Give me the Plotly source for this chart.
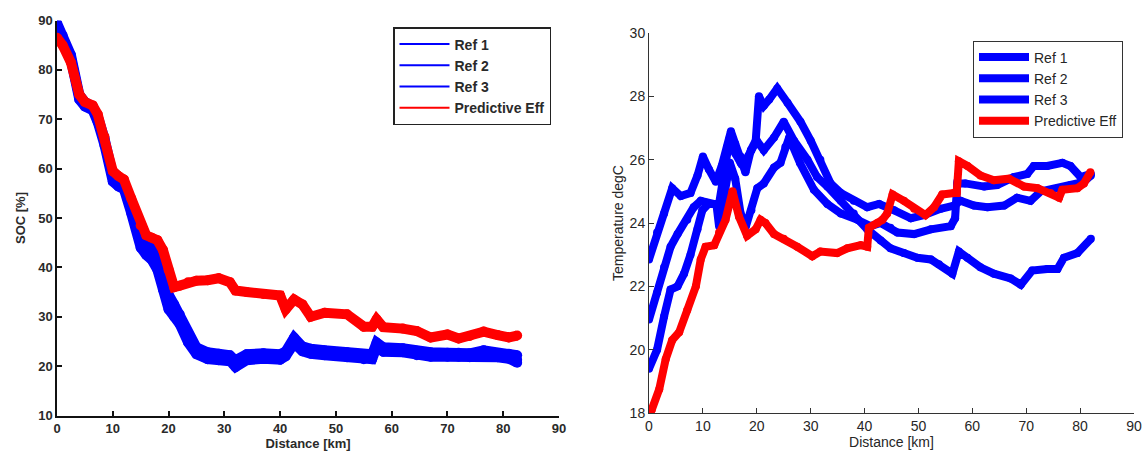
import plotly.graph_objects as go

# ---------------- Left panel: SOC ----------------
soc_x = [0, 1, 2.5, 4, 5, 6.4, 7.3, 8.5, 10, 11, 12, 13.3, 15, 16, 17, 18, 19, 20, 21, 22,
         23.5, 25, 27, 29, 31, 32, 34, 37, 40, 41, 42.5, 44, 45.5, 48, 52, 55, 56.5, 57.3, 58.5,
         62, 64.5, 67, 70, 72, 74, 76.5, 79, 81, 82.5]
soc_ref1 = [89, 86.5, 82.5, 74.5, 73, 72.2, 70, 65.5, 58, 57, 56.5, 52, 45, 43.5, 42.5, 41, 37, 33, 31, 29.5,
            25.5, 23, 22, 21.8, 21.5, 20.3, 21.8, 22, 21.8, 22.5, 25.2, 23.5, 23, 22.7, 22.3, 21.8, 21.9, 24.3, 23.3,
            23.2, 22.6, 22.3, 22.3, 22.3, 22.2, 22.7, 22.2, 22, 21.3]
soc_ref2 = [89.5, 87, 83, 75, 73.5, 72.6, 70.6, 66.2, 58.8, 57.6, 57, 53, 46, 45, 44.5, 42.5, 38.5, 34.5, 32.5, 30.5,
            26.5, 23.8, 22.8, 22.5, 22.2, 21.2, 22.4, 22.6, 22.4, 23, 25.8, 24, 23.5, 23.2, 22.8, 22.4, 22.4, 24.8, 23.8,
            23.6, 23.1, 22.8, 22.7, 22.7, 22.6, 23.2, 22.6, 22.5, 22.2]
soc_ref3 = [88.5, 86, 82, 74, 72.6, 71.8, 69.4, 64.8, 57.4, 56.4, 55.8, 51, 44, 42.5, 41.5, 39.5, 35.5, 31.5, 30, 28.5,
            24.8, 22.4, 21.4, 21.2, 21, 19.8, 21.2, 21.5, 21.3, 22, 24.6, 23, 22.5, 22.2, 21.8, 21.4, 21.4, 23.8, 22.9,
            22.8, 22.2, 21.9, 21.9, 21.9, 21.8, 22.2, 21.8, 21.5, 20.7]
soc_pred = [86.5, 85, 81.5, 75, 73.5, 72.8, 71, 66.5, 59.5, 58.5, 57.8, 54, 48.5, 46.5, 46, 45.5, 43.5, 39.5, 36, 36.3,
            37, 37.3, 37.4, 37.8, 37, 35.3, 35, 34.6, 34.3, 31.5, 33.5, 32.5, 30, 30.8, 30.5, 28, 28, 29.5, 27.9,
            27.6, 27.1, 25.8, 26.4, 25.6, 26.1, 27, 26.3, 25.8, 26.2]

# ---------------- Right panel: Temperature ----------------
t_ref1_x = [0, 1.5, 2.8, 4.3, 5.9, 7.7, 9, 10, 11.1, 12.4, 13.5, 14.5, 15.2, 16, 17, 17.9, 18.9, 19.8, 20.4, 21.3,
            22.3, 23.8, 25.7, 28.1, 30, 31.8, 33.7, 35.6, 38, 40.5, 42.7, 44.5, 45.5, 48.6, 51, 54.1, 56.6, 57.8, 60.3, 62.8,
            65.9, 68.3, 70.8, 72.7, 75.8, 78.2, 80.7, 82]
t_ref1_y = [22.85, 23.7, 24.3, 25.1, 24.85, 24.95, 25.5, 26.1, 25.7, 25.3, 25.8, 26.4, 26.9, 26.5, 26.1, 25.6, 26.3, 26.6, 28.0, 27.7,
            27.9, 28.25, 27.8, 27.2, 26.6, 26.0, 25.25, 24.95, 24.7, 24.5, 24.6, 24.5, 24.4, 24.15, 24.25, 24.45, 24.55, 24.7, 24.55, 24.5,
            24.55, 24.8, 24.7, 25.0, 25.1, 25.2, 25.3, 25.5]
t_ref2_x = [0, 1.5, 2.8, 4, 5.3, 7.1, 8.3, 9.6, 10.5, 12, 13, 14, 15, 16, 17, 18, 19, 20, 21.3, 23.2,
            25, 26.9, 29.4, 31.2, 33.1, 35.6, 38, 40.5, 43, 44.8, 47.3, 49.8, 52.3, 53.8, 56.3, 57.5, 59.1, 61.5, 64, 67.1,
            69, 71.1, 73.9, 75.8, 77, 79.5, 82]
t_ref2_y = [20.95, 21.8, 22.6, 23.25, 23.65, 24.1, 24.5, 24.7, 24.65, 24.6, 24.6, 25.8, 26.7, 26.2, 25.9, 26.0, 26.3, 26.6, 26.3, 26.7,
            27.2, 26.6, 26.0, 25.45, 25.15, 24.7, 24.3, 23.8, 23.45, 23.2, 23.05, 22.9, 22.85, 22.7, 22.4, 23.1, 22.9, 22.6, 22.4, 22.25,
            22.05, 22.5, 22.55, 22.55, 22.9, 23.05, 23.5]
t_ref3_x = [0, 1.5, 2.8, 4, 5.3, 6.5, 7.7, 9, 9.9, 11, 12.5, 13, 14, 15, 16, 17, 18, 19, 20.1, 21.3,
            23.2, 24.4, 25.3, 26, 28, 30.6, 33.1, 35.6, 38.7, 41.1, 43, 44.8, 46.1, 49.2, 52.3, 56, 56.8, 57.2, 58.7, 62.2,
            64.6, 67.7, 70.2, 71.4, 73.9, 76.7, 78.2, 80.1, 82]
t_ref3_y = [19.4, 20.0, 21.05, 21.9, 22.0, 22.4, 23.0, 23.8, 24.4, 24.6, 24.6, 23.9, 25.0, 25.9, 25.4, 24.3, 23.9, 24.4, 25.1, 25.25,
            25.75, 25.9, 26.4, 26.7, 25.9, 25.05, 24.6, 24.3, 24.1, 23.9, 24.0, 23.85, 23.7, 23.65, 23.8, 23.9, 24.15, 25.25, 25.25, 25.15,
            25.2, 25.45, 25.55, 25.8, 25.8, 25.9, 25.8, 25.45, 25.55]
t_pred_x = [0, 0.5, 1.9, 3.1, 4.3, 5.6, 7.1, 8.7, 9.6, 10.5, 12.1, 13, 14.2, 15.5, 16.7, 18.2, 19.8, 20.7, 21.6, 23.2,
            25, 27.5, 30.3, 31.8, 34.9, 36.8, 39.3, 40.5, 40.8, 42.4, 43.3, 44.2, 45.2, 47.3, 49.2, 51.3, 52.9, 54.4, 56.6, 57.1,
            57.5, 59.1, 61.5, 64, 66.8, 69.6, 72.1, 74.5, 76.1, 76.7, 79.5, 80.7, 81.9]
t_pred_y = [18.0, 18.1, 18.75, 19.7, 20.3, 20.55, 21.25, 22.0, 22.85, 23.25, 23.3, 23.7, 24.1, 25.0, 24.2, 23.6, 23.8, 24.1, 24.0, 23.65,
            23.5, 23.25, 22.95, 23.1, 23.05, 23.2, 23.3, 23.25, 23.85, 24.0, 24.1, 24.3, 24.9, 24.7, 24.45, 24.25, 24.5, 24.9, 24.95, 24.95,
            25.95, 25.8, 25.5, 25.35, 25.4, 25.15, 25.1, 24.95, 24.8, 25.05, 25.1, 25.25, 25.6]

series_names = ["Ref 1", "Ref 2", "Ref 3", "Predictive Eff"]
x_ticks = [0, 10, 20, 30, 40, 50, 60, 70, 80, 90]
soc_ticks = [10, 20, 30, 40, 50, 60, 70, 80, 90]
temp_ticks = [18, 20, 22, 24, 26, 28, 30]

BLUE = "#0000FF"
RED = "#FF0000"
W, H = 1142, 455

fig = go.Figure()

# Left panel traces
for y, col in [(soc_ref1, BLUE), (soc_ref2, BLUE), (soc_ref3, BLUE), (soc_pred, RED)]:
    fig.add_trace(go.Scatter(x=soc_x, y=y, mode="lines+markers", xaxis="x", yaxis="y",
                             line=dict(color=col, width=10),
                             marker=dict(color=col, size=10), showlegend=False, hoverinfo="skip"))
# Left legend entries (thin lines)
for name, col in zip(series_names, [BLUE, BLUE, BLUE, RED]):
    fig.add_trace(go.Scatter(x=[None], y=[None], mode="lines", name=name, xaxis="x", yaxis="y",
                             line=dict(color=col, width=2), legend="legend"))

# Right panel traces
for xs, ys, col in [(t_ref1_x, t_ref1_y, BLUE), (t_ref2_x, t_ref2_y, BLUE),
                    (t_ref3_x, t_ref3_y, BLUE), (t_pred_x, t_pred_y, RED)]:
    fig.add_trace(go.Scatter(x=xs, y=ys, mode="lines+markers", xaxis="x2", yaxis="y2",
                             line=dict(color=col, width=8),
                             marker=dict(color=col, size=8), showlegend=False, hoverinfo="skip"))
for name, col in zip(series_names, [BLUE, BLUE, BLUE, RED]):
    fig.add_trace(go.Scatter(x=[None], y=[None], mode="lines", name=name, xaxis="x2", yaxis="y2",
                             line=dict(color=col, width=8), legend="legend2"))

lfont = dict(family="Liberation Sans, Arial, sans-serif", size=13, color="#2a2a2a", weight="bold")
lleg_font = dict(family="Liberation Sans, Arial, sans-serif", size=14, color="#2a2a2a", weight="bold")
rfont = dict(family="Liberation Sans, Arial, sans-serif", size=14, color="#262626")

axis_common = dict(showgrid=False, zeroline=False, showline=True, ticks="inside", ticklen=5,
                   mirror=False, automargin=False)

fig.update_layout(
    width=W, height=H,
    margin=dict(l=0, r=0, t=0, b=0),
    paper_bgcolor="white", plot_bgcolor="white",
    xaxis=dict(domain=[57 / W, 559 / W], range=[0, 90], tickvals=x_ticks, anchor="y",
               linecolor="#111", linewidth=1.5, tickcolor="#111", tickwidth=1.5,
               tickfont=lfont, title=dict(text="Distance [km]", font=lfont, standoff=1),
               **axis_common),
    yaxis=dict(domain=[1 - 415.5 / H, 1 - 20.5 / H], range=[10, 90], tickvals=soc_ticks, anchor="x",
               linecolor="#111", linewidth=1.5, tickcolor="#111", tickwidth=1.5,
               tickfont=lfont, title=dict(text="SOC [%]", font=lfont, standoff=10),
               **axis_common),
    xaxis2=dict(domain=[649 / W, 1134 / W], range=[0, 90], tickvals=x_ticks, anchor="y2",
                linecolor="#333", linewidth=1, tickcolor="#333", tickwidth=1,
                tickfont=rfont, title=dict(text="Distance [km]", font=rfont, standoff=2),
                **axis_common),
    yaxis2=dict(domain=[1 - 413 / H, 1 - 33 / H], range=[18, 30], tickvals=temp_ticks, anchor="x2",
                linecolor="#333", linewidth=1, tickcolor="#333", tickwidth=1,
                tickfont=rfont, title=dict(text="Temperature degC", font=rfont, standoff=2),
                **axis_common),
    legend=dict(x=393 / W, y=1 - 27 / H, xanchor="left", yanchor="top",
                bgcolor="white", bordercolor="#222", borderwidth=1.5,
                font=lleg_font, tracegroupgap=0, itemwidth=50),
    legend2=dict(x=973 / W, y=1 - 40.5 / H, xanchor="left", yanchor="top",
                 bgcolor="white", bordercolor="#333", borderwidth=1,
                 font=rfont, tracegroupgap=0, itemwidth=50),
)

fig.write_html("out.html")
